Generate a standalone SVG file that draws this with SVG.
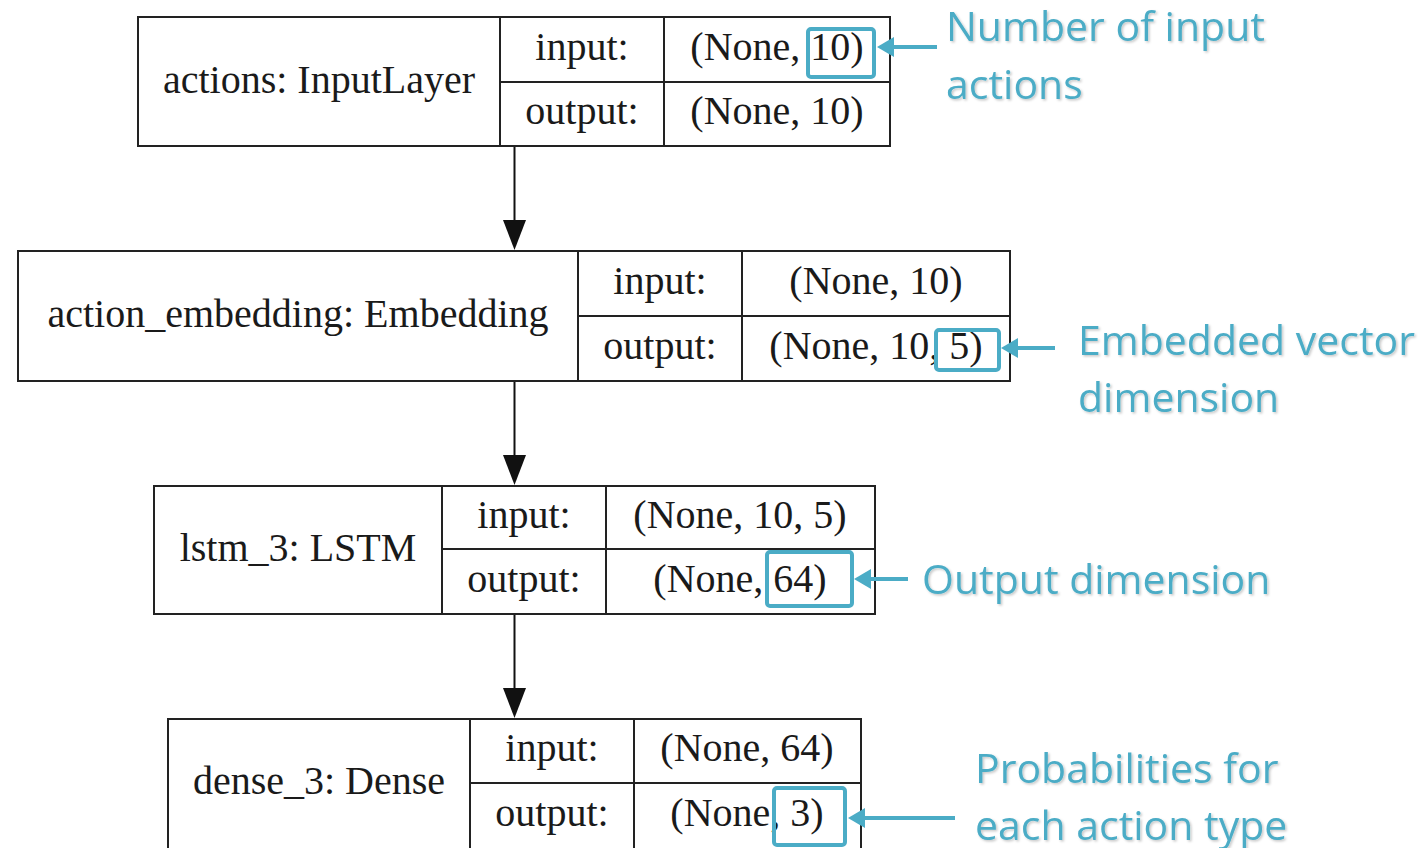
<svg xmlns="http://www.w3.org/2000/svg" width="1427" height="848" viewBox="0 0 1427 848">
  <style>
    .box { fill: #ffffff; stroke: #222222; stroke-width: 2; }
    .sep { stroke: #222222; stroke-width: 2; fill: none; }
    .lbl { font-family: "Liberation Serif", "Times New Roman", serif; font-size: 40px; fill: #1a1a1a; text-anchor: middle; }
    .edge { stroke: #111111; stroke-width: 2; fill: none; }
    .hl { fill: none; stroke: #4BACC6; stroke-width: 4; }
    .pointer { stroke: #4BACC6; stroke-width: 4; fill: none; }
    .note { font-family: "Open Sans", "Liberation Sans", sans-serif; font-size: 41px; fill: #4BACC6; }
  </style>
  <defs>
    <marker id="head" markerUnits="userSpaceOnUse" markerWidth="30" markerHeight="24" refX="0" refY="12" orient="auto">
      <path d="M0,0.5 L30,12 L0,23.5 z" fill="#111111"/>
    </marker>
    <marker id="tealHead" markerUnits="userSpaceOnUse" markerWidth="17" markerHeight="20" refX="0" refY="10" orient="auto">
      <path d="M0,0 L17,10 L0,20 z" fill="#4BACC6"/>
    </marker>
    <filter id="soft" x="-5%" y="-20%" width="110%" height="140%">
      <feDropShadow dx="1.5" dy="1.5" stdDeviation="1" flood-color="#000000" flood-opacity="0.22"/>
    </filter>
  </defs>

  <rect width="1427" height="848" fill="#ffffff"/>

  <!-- layer nodes -->
  <g id="node-actions">
    <rect class="box" x="138" y="17" width="752" height="129"/>
    <path class="sep" d="M500,17 V146 M664,17 V146 M500,82 H890"/>
    <text class="lbl" x="319" y="93">actions: InputLayer</text>
    <text class="lbl" x="582" y="60">input:</text>
    <text class="lbl" x="777" y="60">(None, 10)</text>
    <text class="lbl" x="582" y="124">output:</text>
    <text class="lbl" x="777" y="124">(None, 10)</text>
  </g>

  <g id="node-action-embedding">
    <rect class="box" x="18" y="251" width="992" height="130"/>
    <path class="sep" d="M578,251 V381 M742,251 V381 M578,316 H1010"/>
    <text class="lbl" x="298" y="327">action_embedding: Embedding</text>
    <text class="lbl" x="660" y="294">input:</text>
    <text class="lbl" x="876" y="294">(None, 10)</text>
    <text class="lbl" x="660" y="359">output:</text>
    <text class="lbl" x="876" y="359">(None, 10, 5)</text>
  </g>

  <g id="node-lstm-3">
    <rect class="box" x="154" y="486" width="721" height="128"/>
    <path class="sep" d="M442,486 V614 M606,486 V614 M442,549 H875"/>
    <text class="lbl" x="298" y="561">lstm_3: LSTM</text>
    <text class="lbl" x="524" y="528">input:</text>
    <text class="lbl" x="740" y="528">(None, 10, 5)</text>
    <text class="lbl" x="524" y="592">output:</text>
    <text class="lbl" x="740" y="592">(None, 64)</text>
  </g>

  <g id="node-dense-3">
    <rect class="box" x="168" y="719" width="693" height="140"/>
    <path class="sep" d="M470,719 V859 M634,719 V859 M470,783 H861"/>
    <text class="lbl" x="319" y="794">dense_3: Dense</text>
    <text class="lbl" x="552" y="761">input:</text>
    <text class="lbl" x="747" y="761">(None, 64)</text>
    <text class="lbl" x="552" y="826">output:</text>
    <text class="lbl" x="747" y="826">(None, 3)</text>
  </g>

  <!-- data-flow edges -->
  <g id="edges">
    <line class="edge" x1="514.5" y1="147" x2="514.5" y2="220" marker-end="url(#head)"/>
    <line class="edge" x1="514.5" y1="382" x2="514.5" y2="455" marker-end="url(#head)"/>
    <line class="edge" x1="514.5" y1="615" x2="514.5" y2="688" marker-end="url(#head)"/>
  </g>

  <!-- callouts -->
  <g id="callout-input-count">
    <rect class="hl" x="808" y="29" width="66" height="48" rx="3"/>
    <line class="pointer" x1="937" y1="47" x2="894" y2="47" marker-end="url(#tealHead)"/>
    <text class="note" filter="url(#soft)" x="946" y="41">Number of input</text>
    <text class="note" filter="url(#soft)" x="946" y="99">actions</text>
  </g>

  <g id="callout-embedding-dim">
    <rect class="hl" x="936" y="330" width="63" height="40" rx="3"/>
    <line class="pointer" x1="1055" y1="348" x2="1018" y2="348" marker-end="url(#tealHead)"/>
    <text class="note" filter="url(#soft)" x="1078" y="355">Embedded vector</text>
    <text class="note" filter="url(#soft)" x="1078" y="412">dimension</text>
  </g>

  <g id="callout-output-dim">
    <rect class="hl" x="767" y="552" width="85" height="54" rx="3"/>
    <line class="pointer" x1="908" y1="579" x2="871" y2="579" marker-end="url(#tealHead)"/>
    <text class="note" filter="url(#soft)" x="922" y="594">Output dimension</text>
  </g>

  <g id="callout-probabilities">
    <rect class="hl" x="774" y="788" width="71" height="57" rx="3"/>
    <line class="pointer" x1="955" y1="818" x2="865" y2="818" marker-end="url(#tealHead)"/>
    <text class="note" filter="url(#soft)" x="975" y="783">Probabilities for</text>
    <text class="note" filter="url(#soft)" x="975" y="840">each action type</text>
  </g>
</svg>
